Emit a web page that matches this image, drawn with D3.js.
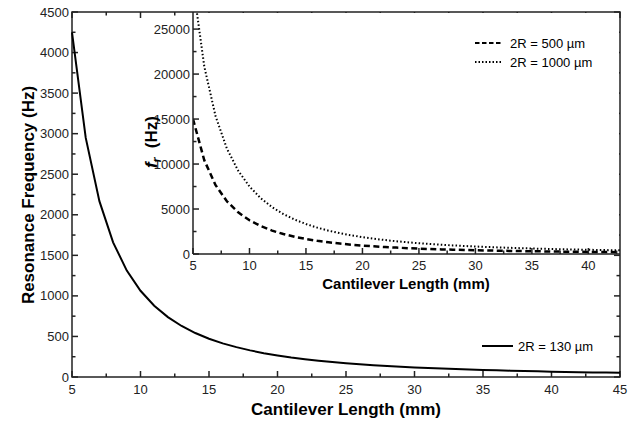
<!DOCTYPE html>
<html>
<head>
<meta charset="utf-8">
<script src="https://cdn.jsdelivr.net/npm/d3@7"></script>
<style>
  body { margin: 0; background: #fff; }
  svg { font-family: "Liberation Sans", Arial, sans-serif; }
</style>
</head>
<body>
<svg width="638" height="422"></svg>
<script>
// DATA
const lengths = [5, 6, 7, 8, 9, 10, 11, 12, 13, 14, 15, 16, 17, 18, 19, 20, 21, 22, 23, 24, 25,
  26, 27, 28, 29, 30, 31, 32, 33, 34, 35, 36, 37, 38, 39, 40, 41, 42, 43, 44, 45];
const freq130 = [4250, 2951, 2168, 1660, 1312, 1063, 878, 738, 629, 542, 472, 415, 368, 328, 294, 266,
  241, 220, 201, 184, 170, 157, 146, 136, 126, 118, 111, 104, 98, 92, 87, 82, 78, 74, 70, 66, 63, 60, 57, 55, 52];
const freq500 = [15000, 10417, 7653, 5859, 4630, 3750, 3099, 2604, 2219, 1913, 1667, 1465, 1298, 1157, 1039, 938,
  850, 775, 709, 651, 600, 555, 514, 478, 446, 417, 390, 366, 344, 324, 306, 289, 274, 260, 247, 234, 223, 213, 203, 194, 185];
const freq1000 = [30000, 20833, 15306, 11719, 9259, 7500, 6198, 5208, 4438, 3827, 3333, 2930, 2595, 2315, 2078, 1875,
  1701, 1550, 1418, 1302, 1200, 1109, 1029, 957, 892, 833, 780, 732, 689, 649, 612, 579, 548, 519, 493, 469, 446, 425, 406, 387, 370];
const mainXTicks = [5, 10, 15, 20, 25, 30, 35, 40, 45];
const mainYTicks = [0, 500, 1000, 1500, 2000, 2500, 3000, 3500, 4000, 4500];
const insetXTicks = [5, 10, 15, 20, 25, 30, 35, 40];
const insetYTicks = [0, 5000, 10000, 15000, 20000, 25000];

const svg = d3.select('svg');
const ink = '#222';

// MAIN SCALES
const x = d3.scaleLinear().domain([5, 45]).range([72, 620]);
const y = d3.scaleLinear().domain([0, 4500]).range([377, 12]);

// main frame ticks (inward on all sides)
const minorX = d3.range(5, 45.01, 2.5);
const minorY = d3.range(0, 4500.01, 250);

const frame = svg.append('g').attr('stroke', ink).attr('stroke-width', 1.5);
minorX.forEach(v => {
  const len = v % 5 === 0 ? 6 : 3.5;
  frame.append('line').attr('x1', x(v)).attr('x2', x(v)).attr('y1', 377).attr('y2', 377 - len);
  frame.append('line').attr('x1', x(v)).attr('x2', x(v)).attr('y1', 12).attr('y2', 12 + len);
});
minorY.forEach(v => {
  const len = v % 500 === 0 ? 6 : 3.5;
  frame.append('line').attr('x1', 72).attr('x2', 72 + len).attr('y1', y(v)).attr('y2', y(v));
  frame.append('line').attr('x1', 620).attr('x2', 620 - len).attr('y1', y(v)).attr('y2', y(v));
});
frame.append('rect')
  .attr('x', 72).attr('y', 12).attr('width', 548).attr('height', 365)
  .attr('fill', 'none');

// main tick labels
svg.append('g').selectAll('text').data(mainXTicks).join('text')
  .attr('x', d => x(d)).attr('y', 394)
  .attr('text-anchor', 'middle').attr('font-size', 13).attr('fill', ink)
  .text(d => d);
svg.append('g').selectAll('text').data(mainYTicks).join('text')
  .attr('x', 69).attr('y', d => y(d) + 4.5)
  .attr('text-anchor', 'end').attr('font-size', 13).attr('fill', ink)
  .text(d => d);

svg.append('text')
  .attr('x', 346).attr('y', 415)
  .attr('text-anchor', 'middle').attr('font-size', 17).attr('font-weight', 'bold')
  .text('Cantilever Length (mm)');
svg.append('text')
  .attr('transform', 'translate(34,195) rotate(-90)')
  .attr('text-anchor', 'middle').attr('font-size', 17).attr('font-weight', 'bold')
  .text('Resonance Frequency (Hz)');

// main curve
const line = d3.line().x((d, i) => x(lengths[i])).y(d => y(d));
svg.append('path')
  .attr('d', line(freq130))
  .attr('fill', 'none').attr('stroke', '#000').attr('stroke-width', 2);

// main legend
svg.append('line').attr('x1', 482).attr('x2', 513).attr('y1', 346).attr('y2', 346)
  .attr('stroke', '#000').attr('stroke-width', 2);
svg.append('text').attr('x', 518).attr('y', 351).attr('font-size', 13).text('2R = 130 µm');

// INSET
const ix = d3.scaleLinear().domain([5, 42.8]).range([193, 620]);
const iy = d3.scaleLinear().domain([0, 26900]).range([254, 12]);

svg.append('rect').attr('x', 193).attr('y', 13).attr('width', 426).attr('height', 241).attr('fill', '#fff');

const inset = svg.append('g');
const clip = svg.append('clipPath').attr('id', 'ic')
  .append('rect').attr('x', 193).attr('y', 12).attr('width', 427).attr('height', 242);

const iline = d3.line().x((d, i) => ix(lengths[i])).y(d => iy(d));
inset.append('path')
  .attr('d', iline(freq500)).attr('clip-path', 'url(#ic)')
  .attr('fill', 'none').attr('stroke', '#000').attr('stroke-width', 2.5)
  .attr('stroke-dasharray', '6,3.5');
inset.append('path')
  .attr('d', iline(freq1000)).attr('clip-path', 'url(#ic)')
  .attr('fill', 'none').attr('stroke', '#000').attr('stroke-width', 2)
  .attr('stroke-dasharray', '1.5,2.2');

const iaxes = svg.append('g').attr('stroke', ink).attr('stroke-width', 1.5);
d3.range(5, 42.81, 2.5).forEach(v => {
  const len = v % 5 === 0 ? 6 : 3.5;
  iaxes.append('line').attr('x1', ix(v)).attr('x2', ix(v)).attr('y1', 254).attr('y2', 254 - len);
});
d3.range(0, 26900, 2500).forEach(v => {
  const len = v % 5000 === 0 ? 6 : 3.5;
  iaxes.append('line').attr('x1', 193).attr('x2', 193 + len).attr('y1', iy(v)).attr('y2', iy(v));
});
iaxes.append('line').attr('x1', 193).attr('x2', 193).attr('y1', 12).attr('y2', 254);
iaxes.append('line').attr('x1', 193).attr('x2', 620).attr('y1', 254).attr('y2', 254);

svg.append('g').selectAll('text').data(insetXTicks).join('text')
  .attr('x', d => ix(d)).attr('y', 270)
  .attr('text-anchor', 'middle').attr('font-size', 13).attr('fill', ink)
  .text(d => d);
svg.append('g').selectAll('text').data(insetYTicks).join('text')
  .attr('x', 190).attr('y', d => iy(d) + 4.5)
  .attr('text-anchor', 'end').attr('font-size', 13).attr('fill', ink)
  .text(d => d);

svg.append('text')
  .attr('x', 406).attr('y', 289)
  .attr('text-anchor', 'middle').attr('font-size', 15).attr('font-weight', 'bold')
  .text('Cantilever Length (mm)');

const fr = svg.append('text')
  .attr('transform', 'translate(157,142) rotate(-90)')
  .attr('text-anchor', 'middle').attr('font-size', 17).attr('font-weight', 'bold');
fr.append('tspan').attr('font-style', 'italic').text('f');
fr.append('tspan').attr('font-style', 'italic').attr('font-size', 12).attr('dy', 4).text('r');
fr.append('tspan').attr('dy', -4).text('\u00a0 (Hz)');

// inset legend
svg.append('line').attr('x1', 475).attr('x2', 503).attr('y1', 43).attr('y2', 43)
  .attr('stroke', '#000').attr('stroke-width', 2).attr('stroke-dasharray', '4.5,2.5');
svg.append('text').attr('x', 510).attr('y', 48).attr('font-size', 13).text('2R = 500 µm');
svg.append('line').attr('x1', 475).attr('x2', 503).attr('y1', 62).attr('y2', 62)
  .attr('stroke', '#000').attr('stroke-width', 2).attr('stroke-dasharray', '1.5,2');
svg.append('text').attr('x', 510).attr('y', 67).attr('font-size', 13).text('2R = 1000 µm');
</script>
</body>
</html>
